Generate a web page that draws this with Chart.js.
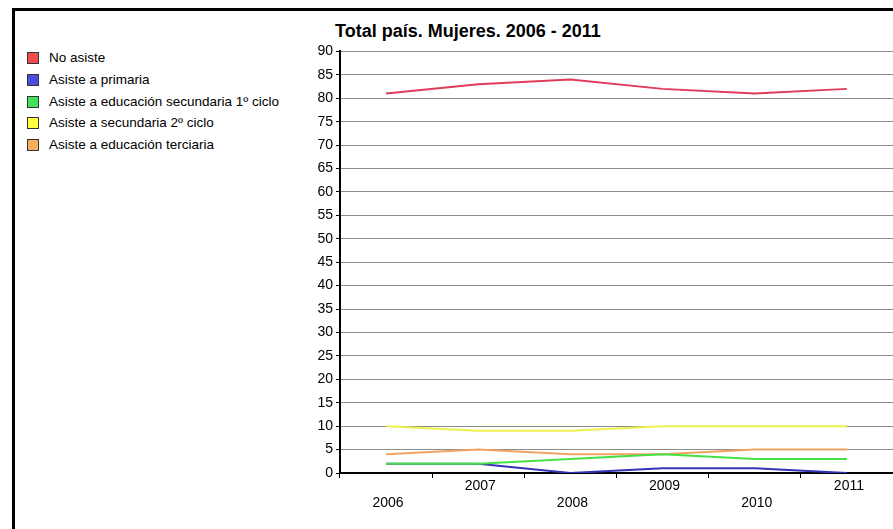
<!DOCTYPE html>
<html>
<head>
<meta charset="utf-8">
<script src="https://cdn.jsdelivr.net/npm/chart.js@4.4.1/dist/chart.umd.min.js"></script>
<style>
  html, body { margin: 0; padding: 0; background: #fff; }
  body { width: 893px; height: 529px; overflow: hidden; position: relative; font-family: "Liberation Sans", Arial, sans-serif; }
  .frame { position: absolute; left: 12px; top: 8px; width: 900px; height: 540px; border-left: 3px solid #000; border-top: 3px solid #000; }
  .title { position: absolute; left: 335px; top: 21px; font-weight: bold; font-size: 18px; color: #000; white-space: nowrap; }
  .legend { position: absolute; left: 27px; top: 0; }
  .legend-item { position: absolute; left: 0; white-space: nowrap; font-size: 13.5px; color: #000; height: 15px; line-height: 15px; }
  .legend-item span.box { position: absolute; left: 0; top: 2px; width: 10px; height: 10px; border: 1px solid #333; }
  .legend-item span.txt { position: absolute; left: 22px; top: 0; }
  #chartBox { position: absolute; left: 290px; top: 40px; width: 603px; height: 489px; }
</style>
</head>
<body>
<div class="frame"></div>
<div class="title">Total país. Mujeres. 2006 - 2011</div>
<div class="legend" id="legend"></div>
<div id="chartBox"><canvas id="chart"></canvas></div>

<script>
const years = ['2006', '2007', '2008', '2009', '2010', '2011'];
const yTicks = [0, 5, 10, 15, 20, 25, 30, 35, 40, 45, 50, 55, 60, 65, 70, 75, 80, 85, 90];

const seriesNames = [
    'No asiste',
    'Asiste a primaria',
    'Asiste a educación secundaria 1º ciclo',
    'Asiste a secundaria 2º ciclo',
    'Asiste a educación terciaria'
];
const noAsiste = [81, 83, 84, 82, 81, 82];
const primaria = [2, 2, 0, 1, 1, 0];
const secundaria1 = [2, 2, 3, 4, 3, 3];
const secundaria2 = [10, 9, 9, 10, 10, 10];
const terciaria = [4, 5, 4, 4, 5, 5];

const lineColors = ['#e03c5a', '#3434b8', '#44e044', '#f0f04c', '#f0a460'];
const boxColors = ['#f04c4c', '#4c4ce0', '#44e060', '#ffff44', '#f8b060'];
const allSeries = [noAsiste, primaria, secundaria1, secundaria2, terciaria];
// blue sits under green in the picture
const drawOrder = [0, 4, 1, 2, 3];

// legend on the left, as in the original
const legendEl = document.getElementById('legend');
const legendRows = [58, 80, 102, 123, 145];
seriesNames.forEach((name, i) => {
    const row = document.createElement('div');
    row.className = 'legend-item';
    row.style.top = (legendRows[i] - 8) + 'px';
    row.innerHTML = `<span class="box" style="background:${boxColors[i]}"></span><span class="txt">${name}</span>`;
    legendEl.appendChild(row);
});

const tickFont = { family: '"Liberation Sans", Arial, sans-serif', size: 14 };

new Chart(document.getElementById('chart').getContext('2d'), {
    type: 'line',
    data: {
        labels: years,
        datasets: allSeries.map((values, i) => ({
            label: seriesNames[i],
            data: values,
            borderColor: lineColors[i],
            backgroundColor: lineColors[i],
            borderWidth: 2,
            pointRadius: 0,
            tension: 0,
            fill: false,
            order: drawOrder[i]
        }))
    },
    options: {
        responsive: true,
        maintainAspectRatio: false,
        animation: false,
        layout: { padding: { top: 11, right: 0, left: 0, bottom: 0 } },
        plugins: {
            legend: { display: false },
            title: { display: false },
            tooltip: { enabled: false }
        },
        scales: {
            x: {
                type: 'category',
                offset: true,
                grid: {
                    offset: true,
                    drawOnChartArea: false,
                    drawTicks: true,
                    tickLength: 5,
                    tickColor: '#000',
                    color: '#000'
                },
                border: { color: '#000', width: 2 },
                ticks: {
                    color: '#000',
                    font: tickFont,
                    autoSkip: false,
                    maxRotation: 0,
                    minRotation: 0,
                    padding: 0,
                    labelOffset: 2,
                    callback: function (value, index) {
                        const label = this.getLabelForValue(value);
                        return index % 2 === 0 ? ['', label] : label;
                    }
                },
                afterFit: function (scale) { scale.height = 56; }
            },
            y: {
                min: 0,
                max: 90,
                afterBuildTicks: function (scale) {
                    scale.ticks = yTicks.map(v => ({ value: v }));
                },
                grid: {
                    color: '#8c8c8c',
                    lineWidth: 1,
                    drawTicks: true,
                    tickLength: 4,
                    tickColor: '#000'
                },
                border: { color: '#000', width: 2 },
                ticks: {
                    color: '#000',
                    font: tickFont,
                    padding: 3
                },
                afterFit: function (scale) { scale.width = 50; }
            }
        }
    }
});
</script>
</body>
</html>
